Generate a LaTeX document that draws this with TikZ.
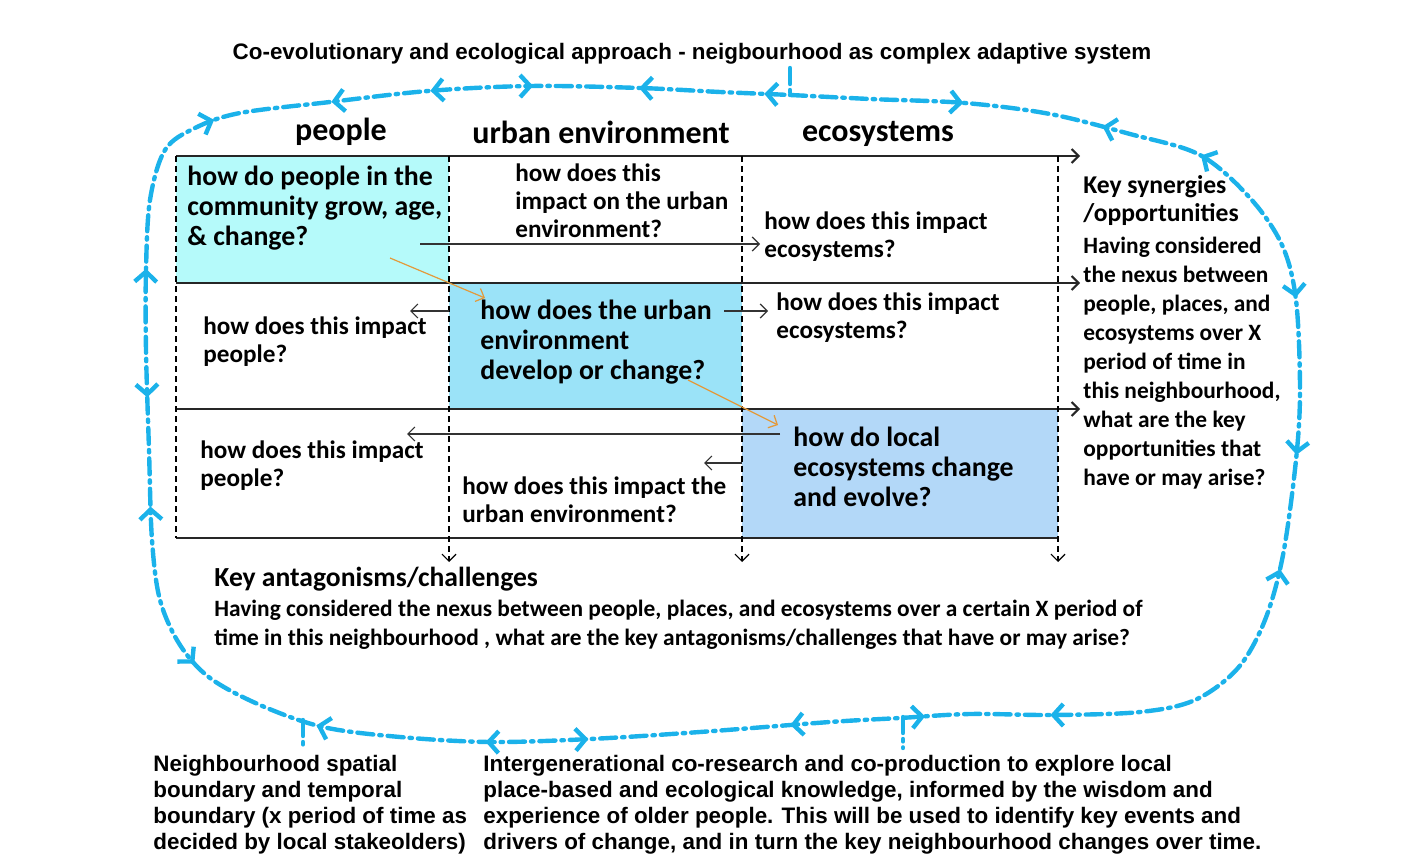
\documentclass[tikz,border=0pt]{standalone}
\usepackage{fontspec}
\setmainfont{Carlito}
\newfontfamily\arialfont{Liberation Sans}
\usetikzlibrary{arrows.meta,decorations.markings}

\definecolor{loopblue}{HTML}{1BB2EA}
\definecolor{peoplefill}{HTML}{B5FAFA}
\definecolor{urbanfill}{HTML}{9BE3F8}
\definecolor{ecofill}{HTML}{B3D8F8}
\definecolor{linkorange}{HTML}{E39A3B}

\newcommand{\loopfwd}{\arrow{Straight Barb[length=5pt,width=11pt]}}
\newcommand{\loopback}{\arrowreversed{Straight Barb[length=5pt,width=11pt]}}

\begin{document}
\begin{tikzpicture}[x=0.5pt,y=-0.5pt,
  header/.style={font=\fontsize{16}{18}\selectfont\bfseries, inner sep=0pt},
  bigq/.style={font=\fontsize{13.9}{15}\selectfont\bfseries, align=left, anchor=west, inner sep=0pt},
  smallq/.style={font=\fontsize{12.6}{14}\selectfont\bfseries, align=left, anchor=west, inner sep=0pt},
  keyhead/.style={font=\fontsize{12.8}{14}\selectfont\bfseries, align=left, anchor=west, inner sep=0pt},
  keytext/.style={font=\fontsize{11.7}{14.5}\selectfont\bfseries, align=left, anchor=west, inner sep=0pt},
  arialtext/.style={font=\arialfont\fontsize{11.2}{13}\selectfont\bfseries, align=left, anchor=west, inner sep=0pt},
  tip/.style={-{Straight Barb[length=3.5pt,width=7pt]}},
  rowline/.style={line width=1pt, draw=black!85},
  colline/.style={line width=0.6pt, dash pattern=on 3pt off 2pt},
  cellarrow/.style={tip, line width=0.6pt, draw=black!80},
  orangelink/.style={tip, line width=0.6pt, draw=linkorange},
  loopline/.style={draw=loopblue, line width=2.2pt, line cap=round,
    dash pattern=on 8pt off 3pt on 1.2pt off 3pt}]

\useasboundingbox (0,0) rectangle (1420,856);

% cell fills
\fill[peoplefill] (176,156) rectangle (449,283);
\fill[urbanfill] (449,283) rectangle (742,409);
\fill[ecofill] (742,409) rectangle (1058,538);

% title and headers
\node[font=\arialfont\fontsize{11.2}{13}\selectfont\bfseries] (title) at (692,54)
  {Co-evolutionary and ecological approach - neigbourhood as complex adaptive system};
\node[header] (people) at (341,132) {people};
\node[header] (urban) at (601,132) {urban environment};
\node[header] (eco) at (878,134) {ecosystems};

% table grid
\draw[rowline,tip] (176,156) -- (1080,156);
\draw[rowline,tip] (176,283) -- (1080,283);
\draw[rowline,tip] (176,409) -- (1080,409);
\draw[rowline] (176,538) -- (1058,538);
\draw[colline] (176,156) -- (176,538);
\foreach \cx in {449,742,1058}
  \draw[colline,tip] (\cx,156) -- (\cx,562);

% row 1
\node[bigq] (peopleq) at (187,208) {how do people in the\\community grow, age,\\\& change?};
\node[smallq] (urbanimpact1) at (515,201) {how does this\\impact on the urban\\environment?};
\node[smallq] (ecoimpact1) at (764,237) {how does this impact\\ecosystems?};

% row 2
\node[smallq] (peopleimpact2) at (203,342) {how does this impact\\people?};
\node[bigq] (urbanq) at (480,342) {how does the urban\\environment\\develop or change?};
\node[smallq] (ecoimpact2) at (776,318) {how does this impact\\ecosystems?};

% row 3
\node[smallq] (peopleimpact3) at (200,466) {how does this impact\\people?};
\node[smallq] (urbanimpact3) at (462,500) {how does this impact the\\urban environment?};
\node[bigq] (ecoq) at (793,467) {how do local\\ecosystems change\\and evolve?};

% arrow ends inside the table
\coordinate (p1start) at (420,244);
\coordinate (p1end) at (760,244);
\coordinate (u2left) at (449,311);
\coordinate (u2lefttip) at (410,311);
\coordinate (u2right) at (724,311);
\coordinate (u2righttip) at (768,311);
\coordinate (e3long) at (780,434);
\coordinate (e3longtip) at (407,434);
\coordinate (e3short) at (742,463);
\coordinate (e3shorttip) at (704,463);
\coordinate (o1start) at (390,258);
\coordinate (o1end) at (485,298);
\coordinate (o2start) at (688,380);
\coordinate (o2end) at (778,425);

\draw[cellarrow] (p1start) -- (p1end);
\draw[cellarrow] (u2left) -- (u2lefttip);
\draw[cellarrow] (u2right) -- (u2righttip);
\draw[cellarrow] (e3long) -- (e3longtip);
\draw[cellarrow] (e3short) -- (e3shorttip);
\draw[orangelink] (o1start) -- (o1end);
\draw[orangelink] (o2start) -- (o2end);

% synergies and antagonisms
\node[keyhead] (synhead) at (1083,201) {Key synergies\\/opportunities};
\node[keytext] (syntext) at (1083,363) {Having considered\\the nexus between\\people, places, and\\ecosystems over X\\period of time in\\this neighbourhood,\\what are the key\\opportunities that\\have or may arise?};
\node[keyhead, font=\fontsize{13.8}{15}\selectfont\bfseries] (anthead) at (214,579) {Key antagonisms/challenges};
\node[keytext] (anttext) at (214,625) {Having considered the nexus between people, places, and ecosystems over a certain X period of\\time in this neighbourhood , what are the key antagonisms/challenges that have or may arise?};

% bottom notes
\node[arialtext] (boundary) at (153,805) {Neighbourhood spatial\\boundary and temporal\\boundary (x period of time as\\decided by local stakeolders)};
\node[arialtext] (coresearch) at (483,805) {Intergenerational co-research and co-production to explore local\\place-based and ecological knowledge, informed by the wisdom and\\experience of older people. This will be used to identify key events and\\drivers of change, and in turn the key neighbourhood changes over time.};

% the adaptive system loop
\draw[loopline, postaction={decorate}, decoration={markings,
    mark=at position 0.054 with {\loopfwd},
    mark=at position 0.098 with {\loopback},
    mark=at position 0.130 with {\loopback},
    mark=at position 0.185 with {\loopfwd},
    mark=at position 0.234 with {\loopfwd},
    mark=at position 0.270 with {\loopback},
    mark=at position 0.366 with {\loopfwd},
    mark=at position 0.405 with {\loopback},
    mark=at position 0.447 with {\loopfwd},
    mark=at position 0.510 with {\loopback},
    mark=at position 0.542 with {\loopfwd},
    mark=at position 0.595 with {\loopfwd},
    mark=at position 0.638 with {\loopback},
    mark=at position 0.690 with {\loopfwd},
    mark=at position 0.724 with {\loopback},
    mark=at position 0.764 with {\loopfwd},
    mark=at position 0.820 with {\loopfwd},
    mark=at position 0.857 with {\loopback},
    mark=at position 0.888 with {\loopback},
    mark=at position 0.920 with {\loopfwd},
    mark=at position 0.953 with {\loopback},
    mark=at position 0.992 with {\loopback}}]
  plot[smooth cycle, tension=0.55] coordinates {
    (720,92) (790,95) (870,99) (965,103) (1050,114) (1130,134) (1200,155) (1250,198)
    (1282,245) (1296,300) (1300,390) (1296,460) (1283,555) (1265,620)
    (1238,668) (1195,700) (1140,712) (1054,715) (970,714) (900,718)
    (830,722) (700,732) (590,739) (490,742) (400,737) (323,727) (260,705)
    (210,678) (180,645) (160,600) (152,540) (149,450) (146,350) (146,270)
    (150,200) (165,150) (195,128) (240,113) (330,102) (428,91) (530,86)
    (640,88)};

% joins to the loop
\coordinate (topjoin) at (790,95);
\coordinate (topstub) at (790,68);
\coordinate (leftjoin) at (303,720);
\coordinate (leftstub) at (303,748);
\coordinate (rightjoin) at (903,717);
\coordinate (rightstub) at (903,748);
\draw[loopline] (topstub) -- (topjoin);
\draw[loopline] (leftjoin) -- (leftstub);
\draw[loopline] (rightjoin) -- (rightstub);
\end{tikzpicture}
\end{document}
